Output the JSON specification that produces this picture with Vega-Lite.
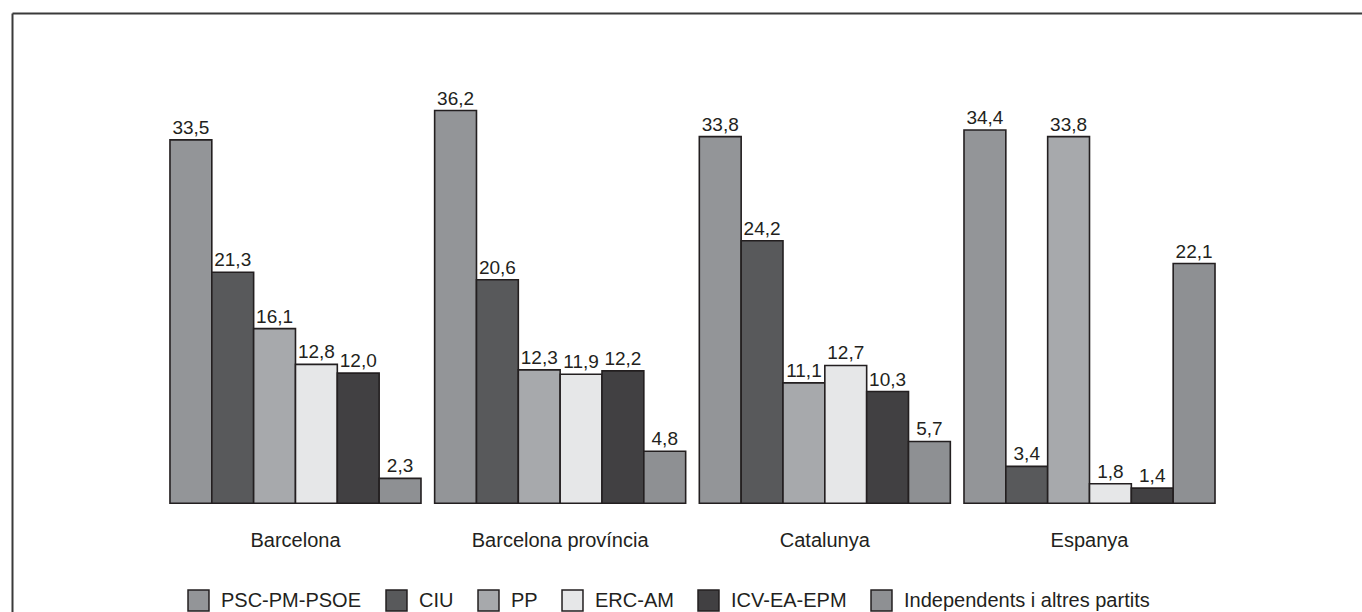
{
  "$schema": "https://vega.github.io/schema/vega-lite/v6.json",
  "width": 1350,
  "height": 599,
  "autosize": {"type": "none"},
  "padding": {"left": 12, "top": 13, "right": 0, "bottom": 0},
  "background": "white",
  "config": {
    "view": {"stroke": null},
    "font": "Liberation Sans",
    "locale": {"number": {"decimal": ",", "thousands": ".", "grouping": [3], "currency": ["", " €"]}}
  },
  "data": {
    "values": [
      {"lloc": "Barcelona", "partit": "PSC-PM-PSOE", "vots": 33.5},
      {"lloc": "Barcelona", "partit": "CIU", "vots": 21.3},
      {"lloc": "Barcelona", "partit": "PP", "vots": 16.1},
      {"lloc": "Barcelona", "partit": "ERC-AM", "vots": 12.8},
      {"lloc": "Barcelona", "partit": "ICV-EA-EPM", "vots": 12.0},
      {"lloc": "Barcelona", "partit": "Independents i altres partits", "vots": 2.3},
      {"lloc": "Barcelona província", "partit": "PSC-PM-PSOE", "vots": 36.2},
      {"lloc": "Barcelona província", "partit": "CIU", "vots": 20.6},
      {"lloc": "Barcelona província", "partit": "PP", "vots": 12.3},
      {"lloc": "Barcelona província", "partit": "ERC-AM", "vots": 11.9},
      {"lloc": "Barcelona província", "partit": "ICV-EA-EPM", "vots": 12.2},
      {"lloc": "Barcelona província", "partit": "Independents i altres partits", "vots": 4.8},
      {"lloc": "Catalunya", "partit": "PSC-PM-PSOE", "vots": 33.8},
      {"lloc": "Catalunya", "partit": "CIU", "vots": 24.2},
      {"lloc": "Catalunya", "partit": "PP", "vots": 11.1},
      {"lloc": "Catalunya", "partit": "ERC-AM", "vots": 12.7},
      {"lloc": "Catalunya", "partit": "ICV-EA-EPM", "vots": 10.3},
      {"lloc": "Catalunya", "partit": "Independents i altres partits", "vots": 5.7},
      {"lloc": "Espanya", "partit": "PSC-PM-PSOE", "vots": 34.4},
      {"lloc": "Espanya", "partit": "CIU", "vots": 3.4},
      {"lloc": "Espanya", "partit": "PP", "vots": 33.8},
      {"lloc": "Espanya", "partit": "ERC-AM", "vots": 1.8},
      {"lloc": "Espanya", "partit": "ICV-EA-EPM", "vots": 1.4},
      {"lloc": "Espanya", "partit": "Independents i altres partits", "vots": 22.1}
    ]
  },
  "encoding": {
    "x": {
      "field": "lloc", "type": "nominal", "sort": null,
      "scale": {"paddingInner": 0.0516, "paddingOuter": 0.5761, "align": 0.518}
    },
    "xOffset": {
      "field": "partit", "type": "nominal",
      "scale": {"domain": ["PSC-PM-PSOE", "CIU", "PP", "ERC-AM", "ICV-EA-EPM", "Independents i altres partits"], "paddingInner": 0, "paddingOuter": 0}
    },
    "y": {
      "field": "vots", "type": "quantitative",
      "scale": {"domain": [-10.02, 45.19], "nice": false, "zero": false},
      "axis": {"labels": false, "ticks": false, "grid": false, "domain": true, "domainColor": "#3a3a3a", "domainWidth": 2, "title": null}
    }
  },
  "layer": [
    {
      "mark": {"type": "bar", "stroke": "#231f20", "strokeWidth": 1.6},
      "encoding": {
        "x": {
          "field": "lloc", "type": "nominal", "sort": null,
          "axis": {"orient": "bottom", "offset": -66, "domain": false, "ticks": false, "tickSize": 0, "labelPadding": 0, "labelBaseline": "alphabetic", "labelFontSize": 20, "labelColor": "#231f20", "labelAngle": 0, "title": null, "grid": false}
        },
        "y2": {"datum": 0},
        "fill": {
          "field": "partit", "type": "nominal",
          "scale": {
            "domain": ["PSC-PM-PSOE", "CIU", "PP", "ERC-AM", "ICV-EA-EPM", "Independents i altres partits"],
            "range": ["#939598", "#58595b", "#a7a9ac", "#e6e7e8", "#414042", "#8e9093"]
          },
          "legend": {
            "orient": "none", "legendX": 175, "legendY": 576, "direction": "horizontal", "title": null,
            "symbolType": "square", "symbolSize": 440, "symbolStrokeColor": "#231f20", "symbolStrokeWidth": 1.5,
            "labelFontSize": 20, "labelColor": "#231f20", "labelOffset": 11, "labelLimit": 0, "columnPadding": 21, "symbolOpacity": 1
          }
        }
      }
    },
    {
      "mark": {"type": "text", "baseline": "alphabetic", "dy": -6, "fontSize": 19, "color": "#231f20"},
      "encoding": {
        "x": {
          "field": "lloc", "type": "nominal", "sort": null,
          "axis": {"orient": "top", "labels": false, "ticks": false, "domain": true, "domainColor": "#3a3a3a", "domainWidth": 2, "title": null, "grid": false}
        },
        "text": {"field": "vots", "type": "quantitative", "format": ".1f"}
      }
    }
  ],
  "resolve": {"axis": {"x": "independent"}}
}
